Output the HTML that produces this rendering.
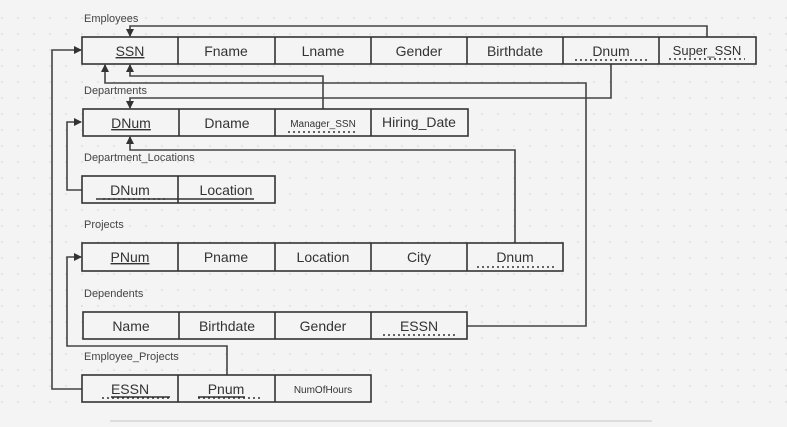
<!DOCTYPE html>
<html><head><meta charset="utf-8"><style>
html,body{margin:0;padding:0;background:#f4f4f4;}
svg{display:block;font-family:"Liberation Sans",sans-serif;}
</style></head><body>
<svg width="787" height="427" viewBox="0 0 787 427" xmlns="http://www.w3.org/2000/svg">
<defs>
<pattern id="dots" width="16" height="16" patternUnits="userSpaceOnUse"><circle cx="2" cy="2" r="0.8" fill="#cfcfcf"/></pattern>
<marker id="ar" markerWidth="8" markerHeight="8" refX="7" refY="4" orient="auto" markerUnits="userSpaceOnUse"><path d="M0,0 L8,4 L0,8 z" fill="#333"/></marker>
</defs>
<rect width="787" height="427" fill="#f4f4f4"/>
<rect x="0" y="8" width="787" height="405" fill="url(#dots)"/>
<g fill="none" stroke="#444" stroke-width="1.6">
<path d="M707,37 V26 H130 V36" marker-end="url(#ar)"/>
<path d="M611,64 V98 H130 V108" marker-end="url(#ar)"/>
<path d="M323,109 V76 H130 V65" marker-end="url(#ar)"/>
<path d="M467,326 H586 V83 H105 V65" marker-end="url(#ar)"/>
<path d="M515,243 V150 H130 V137" marker-end="url(#ar)"/>
<path d="M82,190 H67 V122 H81" marker-end="url(#ar)"/>
<path d="M227,375 V346 H67 V257 H81" marker-end="url(#ar)"/>
<path d="M82,389 H52 V50 H81" marker-end="url(#ar)"/>
</g>
<line x1="110" y1="421" x2="652" y2="421" stroke="#ddd" stroke-width="2"/>
<g font-size="11" fill="#444">
<text x="84" y="22">Employees</text>
<text x="84" y="94">Departments</text>
<text x="84" y="161">Department_Locations</text>
<text x="84" y="228">Projects</text>
<text x="84" y="297">Dependents</text>
<text x="84" y="360">Employee_Projects</text>
</g>
<g stroke="#333" stroke-width="1.6" fill="#f4f4f4">
<rect x="82" y="37" width="674" height="27"/>
<rect x="83" y="109" width="385" height="27"/>
<rect x="82" y="176" width="193" height="27"/>
<rect x="82" y="243" width="481" height="28"/>
<rect x="83" y="312" width="384" height="27"/>
<rect x="82" y="375" width="289" height="27"/>
<path d="M178,37V64M275,37V64M371,37V64M467,37V64M563,37V64M659,37V64"/>
<path d="M179,109V136M275,109V136M371,109V136"/>
<path d="M178,176V203"/>
<path d="M178,243V271M275,243V271M371,243V271M467,243V271"/>
<path d="M179,312V339M275,312V339M371,312V339"/>
<path d="M178,375V402M275,375V402"/>
</g>
<g font-size="14" fill="#333" text-anchor="middle">
<text x="130" y="56" text-decoration="underline">SSN</text>
<text x="226" y="56">Fname</text>
<text x="323" y="56">Lname</text>
<text x="419" y="56">Gender</text>
<text x="515" y="56">Birthdate</text>
<text x="611" y="56">Dnum</text>
<text x="707" y="55" font-size="13">Super_SSN</text>
<text x="131" y="128" text-decoration="underline">DNum</text>
<text x="227" y="128">Dname</text>
<text x="323" y="127" font-size="10">Manager_SSN</text>
<text x="419" y="127">Hiring_Date</text>
<text x="130" y="195">DNum</text>
<text x="226" y="195">Location</text>
<text x="130" y="262" text-decoration="underline">PNum</text>
<text x="226" y="262">Pname</text>
<text x="323" y="262">Location</text>
<text x="419" y="262">City</text>
<text x="515" y="262">Dnum</text>
<text x="131" y="331">Name</text>
<text x="227" y="331">Birthdate</text>
<text x="323" y="331">Gender</text>
<text x="419" y="331">ESSN</text>
<text x="130" y="394">ESSN</text>
<text x="226" y="394">Pnum</text>
<text x="323" y="393" font-size="10">NumOfHours</text>
</g>
<g stroke="#333" stroke-width="1.5" stroke-dasharray="2,3" fill="none">
<path d="M575,60H650M669,59H745M288,132H358M103,199H167M477,267H555M383,335H455M102,398H170M198,398H263"/>
</g>
<g stroke="#333" stroke-width="1.5" fill="none">
<path d="M96,199H178M178,199H254M111,397H170M198,397H245"/>
</g>
</svg>
</body></html>
